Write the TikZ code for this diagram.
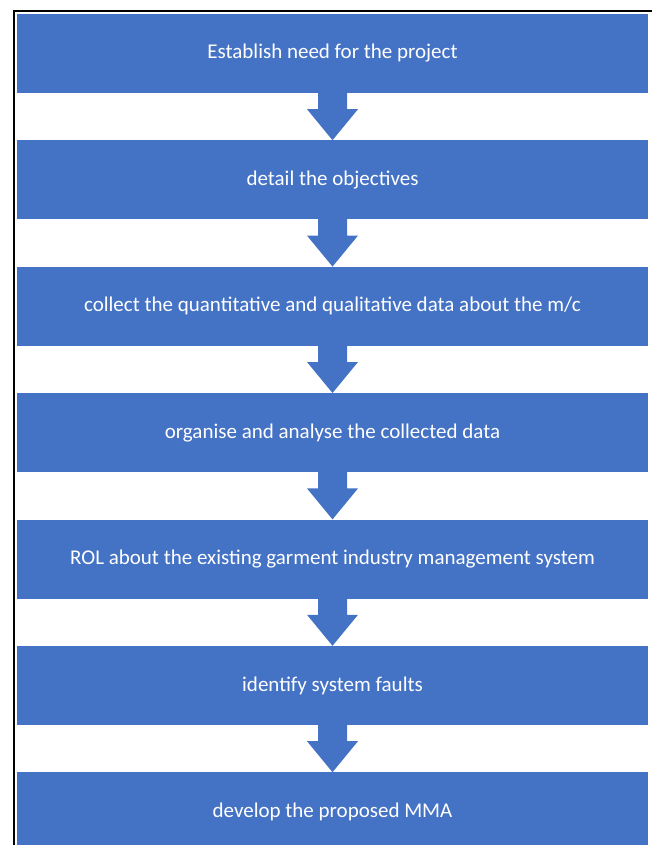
\documentclass[tikz,border=0pt]{standalone}
\usepackage{fontspec}
\setmainfont{Carlito}
\usepackage{xcolor}
\definecolor{mblue}{HTML}{4472C4}
\usepackage{tikz}
\usetikzlibrary{calc,positioning}

% block arrow from the bottom of one stage to the top of the next
\newcommand{\stagearrow}[2]{%
  \fill[mblue] ($(#1.south)+(-\sw,-1)$) -- ($(#1.south)+(-\sw,\sl)$)
    -- ($(#1.south)+(-\hw,\sl)$) -- (#2.north)
    -- ($(#1.south)+(\hw,\sl)$) -- ($(#1.south)+(\sw,\sl)$)
    -- ($(#1.south)+(\sw,-1)$) -- cycle;}

\begin{document}
\begin{tikzpicture}[x=1pt, y=-1pt,
    stage/.style={fill=mblue, text=white, minimum width=631pt,
      minimum height=79pt, inner sep=0pt,
      font=\fontsize{21}{25}\selectfont}]
  % Define parameters
  \def\sw{14.5}   % half width of the shaft
  \def\hw{25.5}   % half width of the head
  \def\sl{16}     % length of the shaft

  \useasboundingbox (0,0) rectangle (652,845);

  % Frame on the left and top
  \draw[line width=2pt] (14,845) -- (14,11) -- (652,11);

  % The stages, one under the other
  \node[stage] (need) at (332.5,53.5) {Establish need for the project};
  \node[stage, below=47pt of need] (objectives) {detail the objectives};
  \node[stage, below=47pt of objectives] (collect) {collect the quantitative and qualitative data about the m/c};
  \node[stage, below=47pt of collect] (analyse) {organise and analyse the collected data};
  \node[stage, below=47pt of analyse] (review) {ROL about the existing garment industry management system};
  \node[stage, below=47pt of review] (faults) {identify system faults};
  \node[stage, below=47pt of faults] (develop) {develop the proposed MMA};

  % Arrows between the stages
  \stagearrow{need}{objectives}
  \stagearrow{objectives}{collect}
  \stagearrow{collect}{analyse}
  \stagearrow{analyse}{review}
  \stagearrow{review}{faults}
  \stagearrow{faults}{develop}
\end{tikzpicture}
\end{document}
